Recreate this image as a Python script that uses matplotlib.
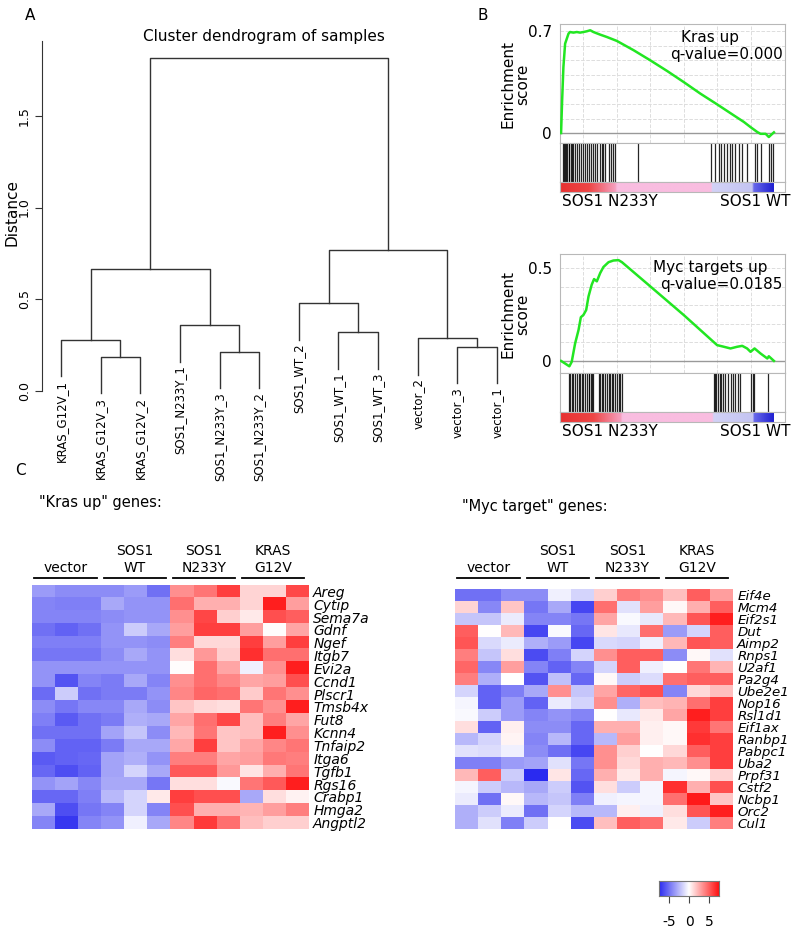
import numpy as np
import matplotlib
matplotlib.use('Agg')
import matplotlib.pyplot as plt
from matplotlib.colors import LinearSegmentedColormap

W, H = 800, 931

# ---- A: dendrogram ----
samples = ['KRAS_G12V_1', 'KRAS_G12V_3', 'KRAS_G12V_2',
           'SOS1_N233Y_1', 'SOS1_N233Y_3', 'SOS1_N233Y_2',
           'SOS1_WT_2', 'SOS1_WT_1', 'SOS1_WT_3',
           'vector_2', 'vector_3', 'vector_1']
# merges in hclust style: negative = leaf position, positive = earlier merge
merges = [(-2, -3, 0.187), (-1, 1, 0.280), (-5, -6, 0.215), (-4, 3, 0.360),
          (2, 4, 0.665), (-8, -9, 0.320), (-7, 6, 0.478), (-11, -12, 0.242),
          (-10, 8, 0.288), (7, 9, 0.766), (5, 10, 1.818)]
hang = 0.2

# ---- B: GSEA ----
kras_x = [0, 0.005, 0.011, 0.019, 0.035, 0.042, 0.058, 0.074, 0.089, 0.105, 0.121,
          0.137, 0.152, 0.184, 0.215, 0.262, 0.341, 0.419, 0.498, 0.576, 0.655,
          0.733, 0.812, 0.859, 0.890, 0.922, 0.937, 0.961, 0.976, 0.984, 1.0]
kras_es = [0, 0.224, 0.453, 0.613, 0.682, 0.693, 0.689, 0.693, 0.689, 0.693, 0.698,
           0.705, 0.693, 0.675, 0.659, 0.632, 0.568, 0.499, 0.426, 0.350, 0.270,
           0.197, 0.121, 0.076, 0.041, 0.007, -0.005, -0.005, -0.027, -0.016, 0.005]
kras_hits = [0.008, 0.014, 0.019, 0.024, 0.030, 0.035, 0.039, 0.046, 0.050, 0.058,
             0.066, 0.074, 0.086, 0.093, 0.102, 0.113, 0.121, 0.129, 0.140, 0.149,
             0.160, 0.168, 0.181, 0.192, 0.199, 0.207, 0.223, 0.234, 0.243, 0.254,
             0.360, 0.705, 0.725, 0.741, 0.752, 0.765, 0.780, 0.793, 0.804, 0.819,
             0.835, 0.851, 0.874, 0.909, 0.922, 0.940, 0.976, 0.984, 0.997]
myc_x = [0, 0.019, 0.039, 0.050, 0.066, 0.082, 0.093, 0.105, 0.118, 0.129, 0.144,
         0.155, 0.168, 0.184, 0.199, 0.223, 0.246, 0.270, 0.286, 0.419, 0.576,
         0.733, 0.765, 0.796, 0.827, 0.851, 0.874, 0.890, 0.909, 0.937, 0.969, 0.976, 1.0]
myc_es = [0, -0.014, -0.029, -0.005, 0.094, 0.166, 0.235, 0.247, 0.274, 0.347, 0.410,
          0.440, 0.428, 0.473, 0.505, 0.531, 0.540, 0.542, 0.531, 0.401, 0.247,
          0.085, 0.076, 0.067, 0.076, 0.081, 0.067, 0.049, 0.067, 0.040, 0.013, 0.025, 0]
myc_hits = [0.035, 0.042, 0.050, 0.058, 0.066, 0.074, 0.082, 0.089, 0.097, 0.105,
            0.113, 0.121, 0.129, 0.133, 0.140, 0.146, 0.152, 0.176, 0.184, 0.192,
            0.199, 0.207, 0.215, 0.223, 0.231, 0.239, 0.246, 0.254, 0.262, 0.270,
            0.278, 0.284, 0.717, 0.724, 0.730, 0.736, 0.746, 0.752, 0.761, 0.772,
            0.783, 0.796, 0.808, 0.819, 0.830, 0.840, 0.890, 0.900, 0.907, 0.972]

# ---- C: heatmaps ----
groups = ['vector', 'SOS1\nWT', 'SOS1\nN233Y', 'KRAS\nG12V']
kras_genes = ['Areg', 'Cytip', 'Sema7a', 'Gdnf', 'Ngef', 'Itgb7', 'Evi2a', 'Ccnd1',
              'Plscr1', 'Tmsb4x', 'Fut8', 'Kcnn4', 'Tnfaip2', 'Itga6', 'Tgfb1',
              'Rgs16', 'Crabp1', 'Hmga2', 'Angptl2']
kras_z = [
    [-3.5, -4.0, -4.0, -4.0, -3.5, -5.0, 3.5, 4.3, 6.0, 1.3, 1.3, 5.7],
    [-4.3, -4.5, -4.5, -3.0, -3.8, -3.8, 4.5, 2.5, 2.5, 1.3, 7.0, 3.0],
    [-4.3, -4.3, -4.3, -4.0, -3.8, -3.8, 3.5, 5.8, 1.5, 0.7, 5.5, 5.0],
    [-5.0, -5.5, -5.0, -3.8, -1.8, -3.0, 3.0, 6.0, 6.0, 3.0, 0.1, 2.8],
    [-4.5, -4.5, -4.5, -3.8, -3.8, -4.0, 4.0, 1.2, 1.2, 6.0, 3.0, 6.0],
    [-4.8, -4.8, -4.8, -4.0, -3.0, -3.8, 1.0, 3.2, 1.5, 6.5, 4.5, 4.5],
    [-3.8, -3.8, -3.8, -3.8, -3.8, -3.8, 0.1, 4.5, 2.8, -0.5, 3.5, 7.0],
    [-3.8, -6.0, -4.3, -4.6, -3.0, -4.3, 3.5, 4.5, 3.8, 2.8, 3.0, 5.5],
    [-5.2, -1.8, -5.0, -4.6, -4.6, -3.8, 3.8, 4.8, 4.5, 1.6, 4.3, 3.5],
    [-4.0, -4.8, -4.2, -4.2, -3.0, -4.0, 1.8, 1.2, 1.0, 4.3, 3.5, 7.0],
    [-4.5, -5.8, -5.0, -4.6, -2.8, -3.0, 2.8, 4.5, 5.8, 2.0, 4.0, 2.8],
    [-5.0, -5.0, -5.0, -3.2, -2.0, -4.0, 2.2, 4.3, 1.8, 2.0, 7.0, 3.5],
    [-4.0, -5.5, -5.5, -4.6, -3.0, -3.0, 2.7, 6.0, 1.8, 2.8, 3.8, 4.3],
    [-5.8, -5.5, -5.3, -3.2, -2.8, -3.8, 4.0, 4.0, 2.8, 3.0, 4.2, 4.0],
    [-5.3, -6.2, -5.5, -3.2, -1.5, -3.0, 5.2, 5.2, 3.2, 0.8, 2.5, 4.3],
    [-3.8, -3.2, -4.2, -3.0, -3.0, -4.8, 1.0, 1.0, -0.2, 4.3, 5.2, 7.0],
    [-5.3, -5.3, -4.5, -2.5, -1.5, 0.7, 6.0, 5.5, 5.5, -3.0, 1.0, 0.4],
    [-3.0, -6.2, -4.8, -4.3, -1.5, -4.3, 5.5, 2.5, 2.5, 2.3, 3.0, 4.0],
    [-4.3, -7.0, -4.3, -3.8, -0.5, -3.0, 3.8, 6.2, 4.5, 2.0, 1.5, 1.5],
]
myc_genes = ['Eif4e', 'Mcm4', 'Eif2s1', 'Dut', 'Aimp2', 'Rnps1', 'U2af1', 'Pa2g4',
             'Ube2e1', 'Nop16', 'Rsl1d1', 'Eif1ax', 'Ranbp1', 'Pabpc1', 'Uba2',
             'Prpf31', 'Cstf2', 'Ncbp1', 'Orc2', 'Cul1']
myc_z = [
    [-5.0, -5.0, -4.0, -4.0, -0.5, -1.5, 1.5, 4.0, 3.5, 2.0, 5.0, 3.0],
    [1.3, -4.2, 1.8, -4.8, -3.0, -6.5, 4.5, -1.0, 3.0, 0.2, 2.5, 5.0],
    [-2.0, -2.0, -0.7, -4.3, -4.3, -4.8, 2.8, -0.2, -0.8, 2.2, 5.3, 7.0],
    [5.0, 0.0, 2.2, -6.5, -0.2, -5.3, 0.8, -0.8, 4.5, -3.5, -1.5, 5.0],
    [5.3, -1.3, -0.7, -2.8, -3.5, -6.5, -1.3, -1.5, -0.5, 2.2, 5.3, 5.0],
    [4.0, -2.0, 1.0, -6.3, -4.5, -1.5, 3.5, 5.0, 5.0, -4.0, 0.2, -1.0],
    [4.8, -4.2, 3.0, -4.3, -5.5, -4.3, -1.5, 5.0, -0.5, 0.0, 4.3, 2.3],
    [4.0, -2.8, 0.0, -6.0, -2.2, -5.3, 0.2, -1.8, -1.2, 4.5, 5.0, 5.0],
    [-1.5, -5.5, -4.5, -3.0, 3.5, -2.0, 2.8, 4.8, 5.5, -4.3, 1.2, 2.0],
    [-0.3, -5.5, -3.5, -5.5, -0.7, -1.5, 3.5, -2.8, 2.0, 2.3, 4.5, 6.0],
    [-0.2, -1.8, -3.5, -4.3, -3.8, -4.3, 0.0, -0.8, 0.7, 2.8, 7.0, 6.0],
    [1.0, -5.5, 0.5, -4.0, -4.0, -5.3, 2.5, 2.5, 0.5, 0.2, 6.2, 4.3],
    [-2.5, -1.5, 0.3, -4.3, -2.5, -5.3, -2.5, 3.0, 0.5, 0.2, 6.5, 6.0],
    [-1.0, -1.2, -0.5, -4.0, -5.0, -6.5, 3.5, 1.5, 0.0, 1.2, 5.0, 6.0],
    [-4.5, -4.5, -3.5, -3.2, -1.0, -4.8, 3.5, 1.2, 2.5, 2.2, 3.5, 6.0],
    [2.2, 5.0, -1.8, -7.5, 0.8, -5.3, 2.5, 0.7, 2.5, -0.3, 0.2, 1.3],
    [-0.3, -1.8, -2.5, -3.0, -1.8, -6.0, 1.0, -1.8, -0.3, 6.5, 2.5, 5.5],
    [-0.7, -5.0, 0.2, -2.5, -2.0, -4.5, -0.5, -0.3, -0.3, 4.5, 7.2, 1.8],
    [-2.8, -1.8, -0.7, -5.0, -1.5, -2.5, -2.5, 0.5, -0.5, 1.0, 5.3, 7.0],
    [-2.8, -1.0, -4.5, -1.8, 0.0, -6.3, 2.0, 5.0, 4.5, 0.7, -1.8, 4.0],
]
cbar_ticks = [-5, 0, 5]

plt.rcParams['font.family'] = 'DejaVu Sans'
fig = plt.figure(figsize=(W / 100, H / 100), dpi=100)


def px_axes(x0, y0, x1, y1):
    return fig.add_axes([x0 / W, 1 - y1 / H, (x1 - x0) / W, (y1 - y0) / H])


def ptext(x, y, s, **kw):
    fig.text(x / W, 1 - y / H, s, **kw)


# Panel A
ax = px_axes(42, 41, 520, 391)
ax.set_xlim(0.52, 12.58)
ax.set_ylim(0, 1.908)
line_col = '#333333'
node_x, node_h = {}, {}
for n, (a, b, h) in enumerate(merges, start=1):
    ends = []
    for k in (a, b):
        if k < 0:
            x = -k
            ybot = h - hang
            ax.text(x, ybot - 0.02, samples[x - 1], rotation=90, ha='center', va='top',
                    fontsize=8.5, clip_on=False)
        else:
            x, ybot = node_x[k], node_h[k]
        ends.append((x, ybot))
    (xa, ya), (xb, yb) = ends
    ax.plot([xa, xa, xb, xb], [ya, h, h, yb], color=line_col, lw=1, clip_on=False)
    node_x[n] = (xa + xb) / 2
    node_h[n] = h
for s in ['top', 'right', 'bottom']:
    ax.spines[s].set_visible(False)
ax.spines['left'].set_color(line_col)
ax.set_xticks([])
ax.set_yticks([0, 0.5, 1.0, 1.5])
ax.set_yticklabels(['0.0', '0.5', '1.0', '1.5'], rotation=90, va='center')
ax.tick_params(axis='y', length=5, pad=3, labelsize=9, color=line_col)
ptext(12, 212, 'Distance', rotation=90, ha='center', va='center', fontsize=11)
ptext(264, 36, 'Cluster dendrogram of samples', ha='center', va='center', fontsize=11)
ptext(30, 15, 'A', ha='center', va='center', fontsize=11)
ptext(483, 15, 'B', ha='center', va='center', fontsize=11)


# Panel B
def gsea(top, x, es, hits, ymax, ymin, ytop_label, rank_stops, title, qval):
    box_col = '#b8b8b8'
    cax = px_axes(560, top, 785, top + 119)
    cax.plot(x, es, color='#22e622', lw=1.8, zorder=3)
    cax.axhline(0, color='#999999', lw=1, zorder=2)
    cax.set_xlim(-0.005, 1.052)
    cax.set_ylim(ymin, ymax)
    cax.set_xticks(np.arange(1, 7) * 0.157 - 0.052)
    yt = np.round(np.arange(0, ytop_label + 0.01, 0.1), 1)
    cax.set_yticks(yt)
    cax.set_yticklabels([('0' if v == 0 else (str(v) if v == ytop_label else '')) for v in yt])
    cax.tick_params(length=0, labelbottom=False, labelsize=11, pad=6)
    cax.grid(True, ls='--', color='#dddddd', lw=0.7)
    cax.text(0.70, ymax - 0.05 * (ymax - ymin), title, ha='center', va='top', fontsize=11)
    cax.text(1.04, ymax - 0.19 * (ymax - ymin), qval, ha='right', va='top', fontsize=11)
    hax = px_axes(560, top + 119, 785, top + 158)
    hax.vlines(hits, 0, 1, color='black', lw=0.9, alpha=0.85)
    hax.set_xlim(-0.005, 1.052)
    hax.set_ylim(0, 1)
    hax.set_xticks([])
    hax.set_yticks([])
    rax = px_axes(560, top + 158, 785, top + 168)
    cmap_r = LinearSegmentedColormap.from_list('rank', rank_stops)
    rax.imshow(np.linspace(0, 1, 400)[None, :], extent=[0, 1, 0, 1], aspect='auto',
               cmap=cmap_r, interpolation='bilinear')
    rax.set_xlim(-0.005, 1.052)
    rax.set_ylim(0, 1)
    rax.set_xticks([])
    rax.set_yticks([])
    for a in (cax, hax, rax):
        for s in a.spines.values():
            s.set_color(box_col)
    ptext(515, top + 60, 'Enrichment\nscore', rotation=90, ha='center', va='center',
          fontsize=11, linespacing=1.0)
    ptext(562, top + 178, 'SOS1 N233Y', ha='left', va='center', fontsize=11)
    ptext(790, top + 178, 'SOS1 WT', ha='right', va='center', fontsize=11)


kras_rank = [(0.0, '#e83232'), (0.13, '#ee4646'), (0.255, '#f5a0c0'), (0.262, '#f9bde0'),
             (0.705, '#f9bde0'), (0.712, '#d2d2f6'), (0.9, '#c4c4f2'), (0.907, '#6868ea'),
             (1.0, '#2222d2')]
myc_rank = [(0.0, '#e83232'), (0.15, '#ee4646'), (0.28, '#f5a0c0'), (0.287, '#f9bde0'),
            (0.712, '#f9bde0'), (0.718, '#d2d2f6'), (0.903, '#c4c4f2'), (0.91, '#6868ea'),
            (1.0, '#2222d2')]
gsea(24, kras_x, kras_es, kras_hits, 0.748, -0.068, 0.7, kras_rank, 'Kras up', 'q-value=0.000')
gsea(254, myc_x, myc_es, myc_hits, 0.575, -0.065, 0.5, myc_rank, 'Myc targets up',
     'q-value=0.0185')

# Panel C
cmap = LinearSegmentedColormap.from_list('bwr2', ['#2a2af0', '#ffffff', '#ff1010'])


def heatmap(x0, y0, x1, y1, z, genes, title, tx, ty, gsize):
    hx = px_axes(x0, y0, x1, y1)
    hx.imshow(np.array(z), cmap=cmap, vmin=-7.5, vmax=7.5, aspect='auto',
              interpolation='nearest')
    hx.set_xticks([])
    hx.set_yticks(range(len(genes)))
    hx.set_yticklabels(genes, fontstyle='italic', fontsize=gsize)
    hx.yaxis.tick_right()
    hx.tick_params(length=0, pad=3)
    for s in hx.spines.values():
        s.set_visible(False)
    off = (y0 - 578) / (y1 - y0)
    tr = hx.get_xaxis_transform()
    for g, name in enumerate(groups):
        hx.plot([g * 3 - 0.4, g * 3 + 2.3], [1 + off, 1 + off], color='black', lw=1.3,
                transform=tr, clip_on=False)
        hx.text(g * 3 + 0.95, 1 + off + 0.012, name, transform=tr, ha='center',
                va='bottom', fontsize=10, linespacing=1.25)
    ptext(tx, ty, title, ha='left', va='center', fontsize=10.5)


ptext(20, 471, 'C', ha='center', va='center', fontsize=11)
heatmap(32, 585, 309, 829, kras_z, kras_genes, '"Kras up" genes:', 39, 503, 10)
heatmap(455, 589, 733, 829, myc_z, myc_genes, '"Myc target" genes:', 462, 507, 9.6)

# colour key
kax = px_axes(659, 881, 719, 896)
kax.imshow(np.linspace(-7.5, 7.5, 256)[None, :], extent=[-7.5, 7.5, 0, 1], aspect='auto',
           cmap=cmap, vmin=-7.5, vmax=7.5)
kax.set_yticks([])
kax.set_xticks(cbar_ticks)
kax.set_xticklabels(['-5', '0', '5'])
kax.tick_params(axis='x', length=5, pad=9, labelsize=10, color='#444444')
for s in kax.spines.values():
    s.set_color('#777777')

fig.savefig('out.png', dpi=100)
